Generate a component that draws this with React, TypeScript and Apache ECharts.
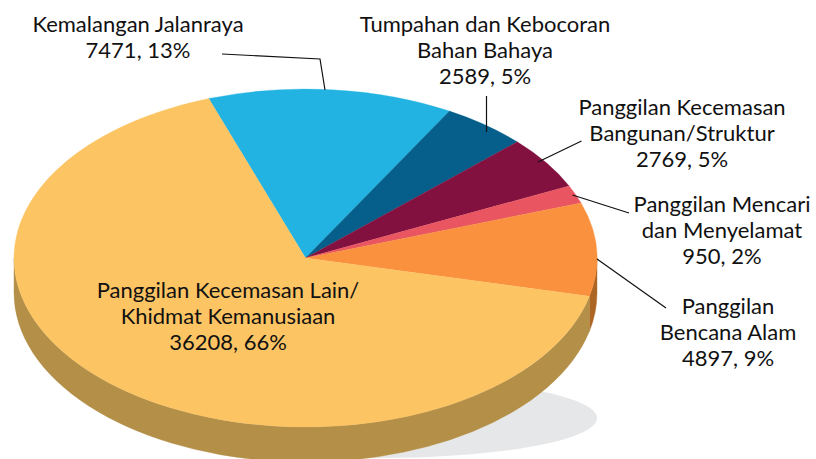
import React, { useEffect, useRef } from "react";
import * as echarts from "echarts";

const categories = [
  ["Kemalangan Jalanraya"],
  ["Tumpahan dan Kebocoran", "Bahan Bahaya"],
  ["Panggilan Kecemasan", "Bangunan/Struktur"],
  ["Panggilan Mencari", "dan Menyelamat"],
  ["Panggilan", "Bencana Alam"],
  ["Panggilan Kecemasan Lain/", "Khidmat Kemanusiaan"],
];
const values = [7471, 2589, 2769, 950, 4897, 36208];
const percents = [13, 5, 5, 2, 9, 66];
const colors = ["#23b3e3", "#055f8a", "#821140", "#e95560", "#fa913e", "#fdc463"];
const wallColors = ["#1a85a8", "#044566", "#5f0c2f", "#a83c45", "#ad6524", "#b38f47"];
const labelCenters: [number, number][] = [
  [138, 23],
  [485, 23],
  [682, 106],
  [722, 203],
  [728, 305],
  [228, 289],
];
const leaders: [number, number][][] = [
  [[222, 54], [320, 59], [325, 90]],
  [[486.5, 96], [486.5, 132]],
  [[581.5, 141], [538, 162]],
  [[629, 213], [572.5, 195]],
  [[666, 308], [597, 259]],
];

const CX = 305.5, CY = 258, RX = 291.5, RY = 169, DEPTH = 35, START = 109.4;
const FONT = "Lato", FS = 22, LH = 26;

const total = values.reduce((a, b) => a + b, 0);
const pt = (deg: number, dy = 0) => {
  const r = (deg * Math.PI) / 180;
  return [CX + RX * Math.cos(r), CY - RY * Math.sin(r) + dy];
};

function renderItem(params: any, api: any) {
  const i = params.dataIndex;
  let before = 0;
  for (let k = 0; k < i; k++) before += values[k];
  const a1 = START - (before / total) * 360;
  const a2 = a1 - (api.value(0) / total) * 360;
  const large = a1 - a2 > 180 ? 1 : 0;
  const p1 = pt(a1), p2 = pt(a2);
  const top = `M${CX} ${CY}L${p1[0]} ${p1[1]}A${RX} ${RY} 0 ${large} 1 ${p2[0]} ${p2[1]}Z`;
  const children: any[] = [];
  const w1 = Math.min(a1, 0), w2 = Math.max(a2, -180);
  if (w1 > w2) {
    const q1 = pt(w1), q2 = pt(w2), q3 = pt(w2, DEPTH), q4 = pt(w1, DEPTH);
    const d = `M${q1[0]} ${q1[1]}A${RX} ${RY} 0 0 1 ${q2[0]} ${q2[1]}L${q3[0]} ${q3[1]}A${RX} ${RY} 0 0 0 ${q4[0]} ${q4[1]}Z`;
    children.push({ type: "path", shape: { pathData: d }, style: { fill: wallColors[i], stroke: wallColors[i], lineWidth: 0.4 } });
  }
  children.push({ type: "path", shape: { pathData: top }, style: { fill: colors[i], stroke: colors[i], lineWidth: 0.3 } });
  return { type: "group", children };
}

export default function App() {
  const ref = useRef<HTMLDivElement>(null);
  useEffect(() => {
    document.body.style.margin = "0";
    const chart = echarts.init(ref.current!, null, { renderer: "svg" });
    const graphics: any[] = [
      { type: "ellipse", z: 0, shape: { cx: 380, cy: 418, rx: 217, ry: 40 }, style: { fill: "#e6e7e8" } },
    ];
    leaders.forEach((pts) =>
      graphics.push({ type: "polyline", z: 20, shape: { points: pts }, style: { stroke: "#111111", lineWidth: 1.2, fill: "none" } })
    );
    categories.forEach((lines, i) => {
      const all = [...lines, `${values[i]}, ${percents[i]}%`];
      all.forEach((t, j) =>
        graphics.push({
          type: "text",
          z: 30,
          x: labelCenters[i][0],
          y: labelCenters[i][1] + j * LH,
          style: { text: t, fill: "#111111", font: `${FS}px ${FONT}, sans-serif`, align: "center", verticalAlign: "middle" },
        })
      );
    });
    chart.setOption({
      animation: false,
      backgroundColor: "#ffffff",
      graphic: graphics,
      series: [
        {
          type: "custom",
          coordinateSystem: "none",
          z: 10,
          silent: true,
          renderItem,
          data: values.map((v) => [v]),
          encode: { value: 0 },
        },
      ],
    });
    return () => chart.dispose();
  }, []);
  return <div ref={ref} style={{ position: "fixed", left: 0, top: 0, width: 816, height: 459 }} />;
}
